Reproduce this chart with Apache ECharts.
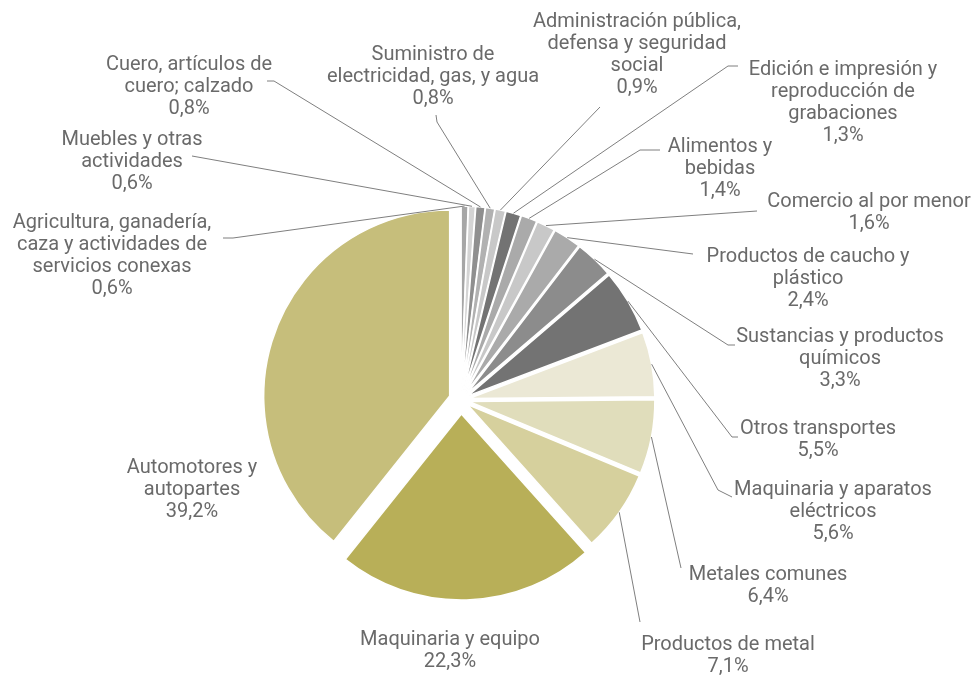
<!DOCTYPE html>
<html>
<head>
<meta charset="utf-8">
<script src="https://cdn.jsdelivr.net/npm/echarts@6/dist/echarts.min.js"></script>
<style>
    html, body { margin: 0; padding: 0; background: #ffffff; }
    #chart { width: 973px; height: 678px; }
</style>
</head>
<body>
<div id="chart"></div>
<script>
// categorias (en sentido horario desde las 12)
const sectores = [
    "Agricultura, ganadería,\ncaza y actividades de\nservicios conexas",
    "Muebles y otras\nactividades",
    "Cuero, artículos de\ncuero; calzado",
    "Suministro de\nelectricidad, gas, y agua",
    "Administración pública,\ndefensa y seguridad\nsocial",
    "Edición e impresión y\nreproducción de\ngrabaciones",
    "Alimentos y\nbebidas",
    "Comercio al por menor",
    "Productos de caucho y\nplástico",
    "Sustancias y productos\nquímicos",
    "Otros transportes",
    "Maquinaria y aparatos\neléctricos",
    "Metales comunes",
    "Productos de metal",
    "Maquinaria y equipo",
    "Automotores y\nautopartes"
];

// participación (%)
const participacion = [0.6, 0.6, 0.8, 0.8, 0.9, 1.3, 1.4, 1.6, 2.4, 3.3, 5.5, 5.6, 6.4, 7.1, 22.3, 39.2];

const colores = [
    "#a6a6a6", "#d4d4d4", "#8f8f8f", "#b1b1b1", "#c8c8c8", "#737373",
    "#aaaaaa", "#c8c8c8", "#aaaaaa", "#8c8c8c", "#737373",
    "#ebe8d5", "#e0ddbb", "#d6d09d", "#b8af58", "#c6be7b"
];

// posición de cada etiqueta: [centro x, borde superior]
const posEtiqueta = [
    [112, 212], [132, 129], [189, 54], [433, 44], [637, 11], [843, 59],
    [720, 136], [869, 191], [808, 246], [840, 326], [818, 418], [833, 479],
    [768, 564], [728, 634], [450, 629], [192, 457]
];

// tramo final de cada línea guía: [codo, extremo]
const guias = [
    [[233, 238], [223, 238]],
    [[192, 156], [192, 156]],
    [[274, 81], [267, 81]],
    [[437, 122], [436, 115]],
    [[600, 107], [600, 107]],
    [[728, 66], [738, 66]],
    [[640, 150], [660, 150]],
    [[757, 211], [757, 211]],
    [[693, 254], [693, 254]],
    [[728, 345], [735, 345]],
    [[732, 437], [738, 437]],
    [[718, 490], [732, 497]],
    [[681, 568], [681, 568]],
    [[640, 622], [640, 622]],
    null,
    null
];

const centro = [461, 400];
const radio = 186;
const separacion = 8;   // todo el gráfico algo separado
const IDX_EQUIPO = 14;
const IDX_AUTO = 15;

const chart = echarts.init(document.getElementById("chart"));

// datos de un anillo donde solo se ven los sectores indicados
function armarDatos(visibles) {
    return sectores.map(function (nombre, i) {
        const ver = visibles.indexOf(i) > -1;
        return {
            name: nombre,
            value: participacion[i],
            selected: ver,
            itemStyle: ver
                ? { color: colores[i], borderColor: "#ffffff", borderWidth: 1.5 }
                : { color: "rgba(0,0,0,0)", borderWidth: 0 }
        };
    });
}

function sectoresPie(visibles, offset) {
    return {
        type: "pie",
        center: centro,
        radius: radio,
        startAngle: 90,
        clockwise: true,
        selectedMode: "multiple",
        selectedOffset: offset,
        silent: true,
        label: { show: false },
        labelLine: { show: false },
        data: armarDatos(visibles)
    };
}

const resto = [];
for (let i = 0; i < sectores.length; i++) {
    if (i !== IDX_EQUIPO && i !== IDX_AUTO) resto.push(i);
}

const etiquetas = {
    type: "pie",
    center: centro,
    radius: radio + separacion,
    startAngle: 90,
    clockwise: true,
    silent: true,
    z: 3,
    itemStyle: { color: "rgba(0,0,0,0)", borderWidth: 0 },
    label: {
        show: true,
        color: "#6a6a6a",
        fontFamily: "Roboto",
        fontSize: 20,
        lineHeight: 22,
        align: "center",
        formatter: function (p) {
            return p.name + "\n" + p.value.toFixed(1).replace(".", ",") + "%";
        }
    },
    labelLine: {
        show: true,
        length: 20,
        length2: 10,
        lineStyle: { color: "#7f7f7f", width: 1 }
    },
    labelLayout: function (params) {
        const i = params.dataIndex;
        const res = {
            x: posEtiqueta[i][0],
            y: posEtiqueta[i][1],
            align: "center",
            verticalAlign: "top"
        };
        if (guias[i] && params.labelLinePoints) {
            res.labelLinePoints = [
                params.labelLinePoints[0],
                guias[i][0],
                guias[i][1]
            ];
        }
        return res;
    },
    data: sectores.map(function (nombre, i) {
        const item = { name: nombre, value: participacion[i] };
        if (!guias[i]) item.labelLine = { show: false };
        return item;
    })
};

chart.setOption({
    animation: false,
    backgroundColor: "#ffffff",
    series: [
        sectoresPie(resto, separacion),
        sectoresPie([IDX_AUTO], 12),
        sectoresPie([IDX_EQUIPO], 14),
        etiquetas
    ]
});
</script>
</body>
</html>
